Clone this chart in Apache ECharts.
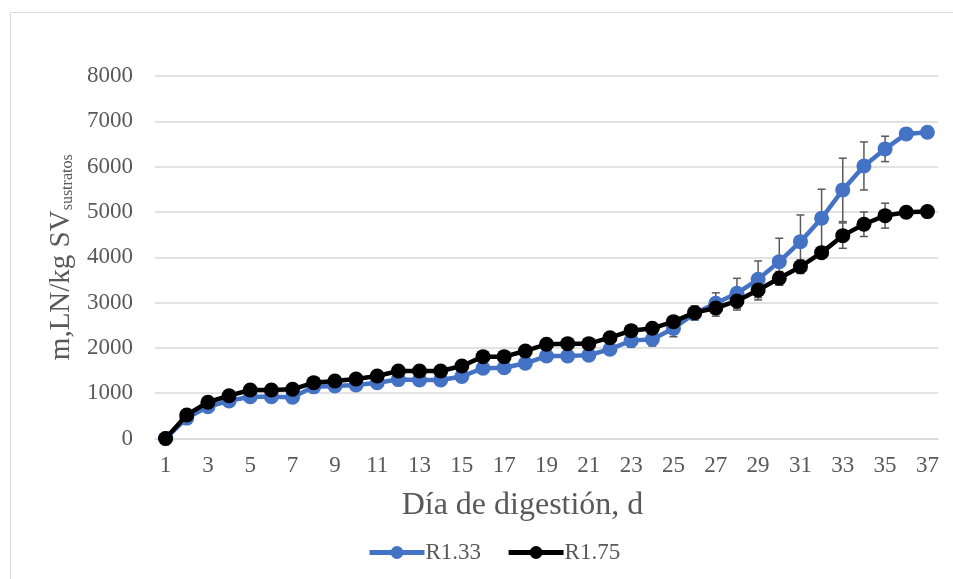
<!DOCTYPE html>
<html>
<head>
<meta charset="utf-8">
<script src="https://cdn.jsdelivr.net/npm/echarts@6/dist/echarts.min.js"></script>
<style>html,body{margin:0;padding:0;background:#fff;}#c{width:953px;height:579px;}</style>
</head>
<body>
<div id="c"></div>
<script>
const days = ['1','2','3','4','5','6','7','8','9','10','11','12','13','14','15','16','17','18','19','20','21','22','23','24','25','26','27','28','29','30','31','32','33','34','35','36','37'];
const r133 = [0, 450, 700, 830, 920, 920, 910, 1140, 1160, 1180, 1230, 1300, 1290, 1290, 1370, 1550, 1560, 1660, 1820, 1820, 1840, 1970, 2160, 2190, 2430, 2760, 2985, 3205, 3514, 3903, 4344, 4861, 5486, 6015, 6391, 6722, 6759];
const r175 = [0, 520, 800, 945, 1070, 1070, 1086, 1232, 1270, 1313, 1380, 1490, 1490, 1490, 1600, 1806, 1806, 1932, 2079, 2093, 2093, 2225, 2380, 2432, 2579, 2777, 2880, 3035, 3278, 3536, 3792, 4102, 4477, 4728, 4918, 4993, 5007];
const err133 = [20, 60, 60, 60, 60, 60, 60, 70, 70, 70, 70, 70, 70, 70, 80, 90, 90, 95, 100, 100, 100, 110, 145, 150, 185, 150, 230, 330, 404, 516, 589, 640, 700, 530, 280, 60, 50];
const err175 = [20, 50, 50, 50, 50, 50, 50, 50, 50, 50, 50, 50, 50, 50, 60, 60, 60, 60, 70, 70, 70, 80, 90, 90, 100, 150, 180, 200, 220, 150, 150, 120, 280, 270, 275, 60, 50];
const yTicks = { min: 0, max: 8000, interval: 1000 };

const font = '"Liberation Serif", "Times New Roman", serif';
const grey = '#595959';

function errData(vals, errs) {
  return vals.map((v, i) => [i, v, errs[i]]);
}
function errRender(params, api) {
  const x = api.value(0), y = api.value(1), e = api.value(2);
  const top = api.coord([x, y + e]);
  const bot = api.coord([x, y - e]);
  const w = 4;
  const st = { stroke: grey, lineWidth: 1.5 };
  return {
    type: 'group',
    children: [
      { type: 'line', shape: { x1: top[0], y1: top[1], x2: bot[0], y2: bot[1] }, style: st },
      { type: 'line', shape: { x1: top[0] - w, y1: top[1], x2: top[0] + w, y2: top[1] }, style: st },
      { type: 'line', shape: { x1: bot[0] - w, y1: bot[1], x2: bot[0] + w, y2: bot[1] }, style: st }
    ]
  };
}

const chart = echarts.init(document.getElementById('c'));
chart.setOption({
  animation: false,
  backgroundColor: '#fff',
  textStyle: { fontFamily: font },
  graphic: [{
    type: 'rect', left: 8, top: 10, silent: true,
    shape: { width: 960, height: 590 },
    style: { fill: 'none', stroke: '#d9d9d9', lineWidth: 1 }
  }],
  grid: { left: 155, right: 15, top: 76, bottom: 140.5 },
  legend: {
    bottom: 10, left: 362, itemWidth: 55, itemHeight: 16, itemGap: 25,
    lineStyle: { width: 5 },
    textStyle: { fontFamily: font, fontSize: 23, color: grey, padding: [0, 0, 0, -4] },
    data: ['R1.33', 'R1.75']
  },
  xAxis: {
    type: 'category', data: days, boundaryGap: true,
    axisLine: { show: true, lineStyle: { color: '#d9d9d9', width: 1.5 } },
    axisTick: { show: false },
    axisLabel: { interval: 1, fontFamily: font, fontSize: 23, color: grey, margin: 16 },
    name: 'Día de digestión, d', nameLocation: 'middle', nameGap: 51,
    nameTextStyle: { fontFamily: font, fontSize: 32, color: grey, padding: [0, 48, 0, 0] }
  },
  yAxis: {
    type: 'value', min: yTicks.min, max: yTicks.max, interval: yTicks.interval,
    axisLine: { show: false }, axisTick: { show: false },
    splitLine: { lineStyle: { color: '#d9d9d9', width: 1.5 } },
    axisLabel: { fontFamily: font, fontSize: 23, color: grey, margin: 22, formatter: v => String(v) },
    name: '{a|m,LN/kg SV}{b|sustratos}', nameLocation: 'middle', nameGap: 79,
    nameTextStyle: {
      color: grey,
      rich: {
        a: { fontFamily: font, fontSize: 29, color: grey },
        b: { fontFamily: font, fontSize: 16, color: grey, padding: [12, 0, 0, 0] }
      }
    }
  },
  series: [
    {
      name: 'errR133', type: 'custom', renderItem: errRender, data: errData(r133, err133), z: 1, silent: true
    },
    {
      name: 'errR175', type: 'custom', renderItem: errRender, data: errData(r175, err175), z: 1, silent: true
    },
    {
      name: 'R1.33', type: 'line', data: r133, symbol: 'circle', symbolSize: 15, showAllSymbol: true, z: 3,
      itemStyle: { color: '#4472C4' }, lineStyle: { color: '#4472C4', width: 4.5 }
    },
    {
      name: 'R1.75', type: 'line', data: r175, symbol: 'circle', symbolSize: 15, showAllSymbol: true, z: 4,
      itemStyle: { color: '#000000' }, lineStyle: { color: '#000000', width: 4.5 }
    }
  ]
});
</script>
</body>
</html>
